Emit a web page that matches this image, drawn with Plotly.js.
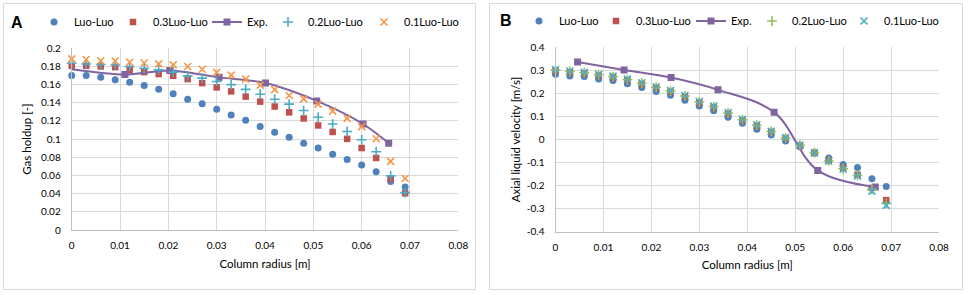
<!DOCTYPE html>
<html>
<head>
<meta charset="utf-8">
<script src="https://cdn.plot.ly/plotly-3.0.1.min.js"></script>
<style>html,body{margin:0;padding:0;background:#fff;}#chart{width:969px;height:295px;}</style>
</head>
<body>
<div id="chart"></div>
<script>
// ---------- Data ----------
const radius = [0,0.003,0.006,0.009,0.012,0.015,0.018,0.021,0.024,0.027,0.030,0.033,0.036,0.039,0.042,0.045,0.048,0.051,0.054,0.057,0.060,0.063,0.066,0.069];

// Panel A: gas holdup [-]
const holdupLuoLuo = [0.170,0.170,0.168,0.1654,0.1625,0.159,0.155,0.150,0.144,0.139,0.133,0.1265,0.1207,0.1138,0.1076,0.1022,0.0956,0.0902,0.0833,0.0775,0.0716,0.064,0.0535,0.0473];
const holdup03 = [0.1807,0.1807,0.180,0.1792,0.1763,0.1738,0.1716,0.1697,0.1661,0.1617,0.157,0.1526,0.1468,0.1413,0.1359,0.1295,0.1228,0.1151,0.1079,0.1003,0.0902,0.0793,0.0564,0.0404];
const holdup02 = [0.1836,0.1828,0.1822,0.1817,0.180,0.178,0.1763,0.1738,0.1697,0.1672,0.1635,0.160,0.1548,0.1494,0.144,0.1385,0.1315,0.1241,0.1166,0.1084,0.0993,0.0862,0.0596,0.0411];
const holdup01 = [0.1884,0.1877,0.1863,0.186,0.1847,0.1838,0.1829,0.1818,0.180,0.177,0.1735,0.1705,0.166,0.1595,0.1545,0.148,0.1444,0.1385,0.1309,0.1229,0.1138,0.1004,0.0756,0.0567];
const holdupExpR = [0,0.011,0.0203,0.0305,0.0401,0.0507,0.0603,0.0656];
const holdupExp = [0.177,0.1712,0.1756,0.168,0.1618,0.1421,0.1167,0.0956];

// Panel B: axial liquid velocity [m/s]
const velLuoLuo = [0.283,0.276,0.273,0.262,0.256,0.242,0.226,0.208,0.192,0.170,0.145,0.125,0.097,0.070,0.044,0.020,-0.006,-0.031,-0.060,-0.080,-0.108,-0.122,-0.170,-0.204];
const vel03 = [0.298,0.292,0.287,0.278,0.270,0.257,0.241,0.224,0.207,0.186,0.160,0.140,0.112,0.083,0.060,0.033,0.005,-0.026,-0.057,-0.091,-0.124,-0.153,-0.210,-0.263];
const vel02 = [0.301,0.295,0.290,0.281,0.273,0.260,0.244,0.227,0.210,0.189,0.163,0.143,0.115,0.086,0.062,0.035,0.007,-0.025,-0.057,-0.093,-0.127,-0.156,-0.217,-0.277];
const vel01 = [0.303,0.297,0.291,0.283,0.275,0.262,0.246,0.229,0.212,0.191,0.165,0.145,0.117,0.088,0.064,0.036,0.008,-0.024,-0.058,-0.094,-0.129,-0.158,-0.224,-0.286];
const velExpR = [0.0046,0.0143,0.0241,0.0339,0.0456,0.0547,0.0667];
const velExp = [0.3365,0.302,0.2687,0.2153,0.1186,-0.134,-0.2057];

const seriesNames = ["Luo-Luo","0.3Luo-Luo","Exp.","0.2Luo-Luo","0.1Luo-Luo"];
const xTickVals = [0,0.01,0.02,0.03,0.04,0.05,0.06,0.07,0.08];
const xTickText = ["0","0.01","0.02","0.03","0.04","0.05","0.06","0.07","0.08"];
const yATickVals = [0,0.02,0.04,0.06,0.08,0.1,0.12,0.14,0.16,0.18,0.2];
const yATickText = ["0","0.02","0.04","0.06","0.08","0.1","0.12","0.14","0.16","0.18","0.2"];
const yBTickVals = [-0.4,-0.3,-0.2,-0.1,0,0.1,0.2,0.3,0.4];
const yBTickText = ["-0.4","-0.3","-0.2","-0.1","0","0.1","0.2","0.3","0.4"];

// ---------- Styles ----------
const FONT = "Lato, 'Open Sans', sans-serif";
const C = {blue:"#4F81BD", red:"#C0504D", purple:"#8064A2", cyan:"#4BACC6", orange:"#F79646", green:"#9BBB59"};

function markerTrace(x, y, name, marker, xa, ya, leg) {
  return {x:x, y:y, name:name, type:"scatter", mode:"markers", xaxis:xa, yaxis:ya, legend:leg, marker:marker, cliponaxis:false};
}
function lineTrace(x, y, name, smoothing, xa, ya, leg) {
  return {x:x, y:y, name:name, type:"scatter", mode:"lines+markers", xaxis:xa, yaxis:ya, legend:leg,
    line:{color:C.purple, width:2, shape:"spline", smoothing:smoothing},
    marker:{color:C.purple, symbol:"square", size:7}};
}
const mCircle = c => ({color:c, symbol:"circle", size:7});
const mSquare = c => ({color:c, symbol:"square", size:6.5});
const mOpen = (c, s, sz) => ({color:c, symbol:s, size:sz, line:{color:c, width:1.6}});

// Panel A Exp: the curve starts at r = 0 but no marker is shown there
const expA = lineTrace(holdupExpR, holdupExp, seriesNames[2], 0.8, "x", "y", "legend3");
expA.selectedpoints = holdupExpR.map((v,i)=>i).filter(i => i > 0);
expA.selected = {marker:{opacity:1}};
expA.unselected = {marker:{opacity:0}};

const traces = [
  markerTrace(radius, holdupLuoLuo, seriesNames[0], mCircle(C.blue), "x", "y", "legend"),
  markerTrace(radius, holdup03, seriesNames[1], mSquare(C.red), "x", "y", "legend2"),
  expA,
  markerTrace(radius, holdup02, seriesNames[3], mOpen(C.cyan, "cross-thin-open", 7), "x", "y", "legend4"),
  markerTrace(radius, holdup01, seriesNames[4], mOpen(C.orange, "x-thin-open", 7), "x", "y", "legend5"),

  markerTrace(radius, velLuoLuo, seriesNames[0], mCircle(C.blue), "x2", "y2", "legend6"),
  markerTrace(radius, vel03, seriesNames[1], mSquare(C.red), "x2", "y2", "legend7"),
  lineTrace(velExpR, velExp, seriesNames[2], 1, "x2", "y2", "legend8"),
  markerTrace(radius, vel02, seriesNames[3], mOpen(C.green, "cross-thin-open", 7), "x2", "y2", "legend9"),
  markerTrace(radius, vel01, seriesNames[4], mOpen(C.cyan, "x-thin-open", 7), "x2", "y2", "legend10")
];

const W = 969, H = 295;
const px = v => v / W;
const py = v => 1 - v / H;

const axisCommon = {
  showgrid:true, gridcolor:"#D9D9D9", gridwidth:1, zeroline:false,
  showline:true, linecolor:"#BFBFBF", linewidth:1, ticks:"",
  tickfont:{family:FONT, size:10, color:"#000"}, automargin:false, fixedrange:true
};
const titleFont = {family:FONT, size:11.5, color:"#000"};

const layout = {
  width:W, height:H, margin:{l:0, r:0, t:0, b:0},
  paper_bgcolor:"#fff", plot_bgcolor:"#fff", showlegend:true,
  font:{family:FONT, color:"#000"},
  xaxis: Object.assign({}, axisCommon, {domain:[px(71.7), px(458.3)], range:[0,0.08], tickvals:xTickVals, ticktext:xTickText, anchor:"y",
    ticklabelstandoff:6, title:{text:"Column radius [m]", font:titleFont, standoff:9}}),
  yaxis: Object.assign({}, axisCommon, {domain:[1-230/H, 1-48.3/H], range:[0,0.2], tickvals:yATickVals, ticktext:yATickText, anchor:"x",
    ticklabelstandoff:8, title:{text:"Gas holdup [-]", font:titleFont, standoff:6}}),
  xaxis2: Object.assign({}, axisCommon, {domain:[px(555.5), px(939)], range:[0,0.08], tickvals:xTickVals, ticktext:xTickText, anchor:"y2",
    ticklabelstandoff:6, title:{text:"Column radius [m]", font:titleFont, standoff:9}}),
  yaxis2: Object.assign({}, axisCommon, {domain:[1-231.7/H, 1-47.3/H], range:[-0.4,0.4], tickvals:yBTickVals, ticktext:yBTickText, anchor:"x2",
    ticklabelstandoff:8, title:{text:"Axial liquid velocity [m/s]", font:titleFont, standoff:3}}),
  shapes:[
    {type:"rect", xref:"paper", yref:"paper", x0:px(3.5), x1:px(475.5), y0:py(289.5), y1:py(3.5), line:{color:"#D9D9D9", width:1}},
    {type:"rect", xref:"paper", yref:"paper", x0:px(489.5), x1:px(962.5), y0:py(289.5), y1:py(3.5), line:{color:"#D9D9D9", width:1}}
  ],
  annotations:[
    {text:"<b>A</b>", xref:"paper", yref:"paper", x:px(17), y:py(22), xanchor:"center", yanchor:"middle", showarrow:false, font:{family:"Liberation Sans, Arial, sans-serif", size:16, color:"#000"}},
    {text:"<b>B</b>", xref:"paper", yref:"paper", x:px(506), y:py(21), xanchor:"center", yanchor:"middle", showarrow:false, font:{family:"Liberation Sans, Arial, sans-serif", size:16, color:"#000"}}
  ]
};

// one legend per entry so each entry sits where the reference puts it
const legendCenters = [53, 132, 226, 287, 383, 538, 615, 710, 771, 863];
legendCenters.forEach((c, i) => {
  const key = i === 0 ? "legend" : "legend" + (i + 1);
  layout[key] = {
    orientation:"h", xanchor:"left", yanchor:"middle", bgcolor:"rgba(0,0,0,0)",
    font:{family:FONT, size:11, color:"#000"}, itemwidth:30,
    itemclick:false, itemdoubleclick:false,
    x:px(c - 19), y:py(i < 5 ? 22 : 21)
  };
});

Plotly.newPlot("chart", traces, layout, {staticPlot:true, displayModeBar:false});
</script>
</body>
</html>
